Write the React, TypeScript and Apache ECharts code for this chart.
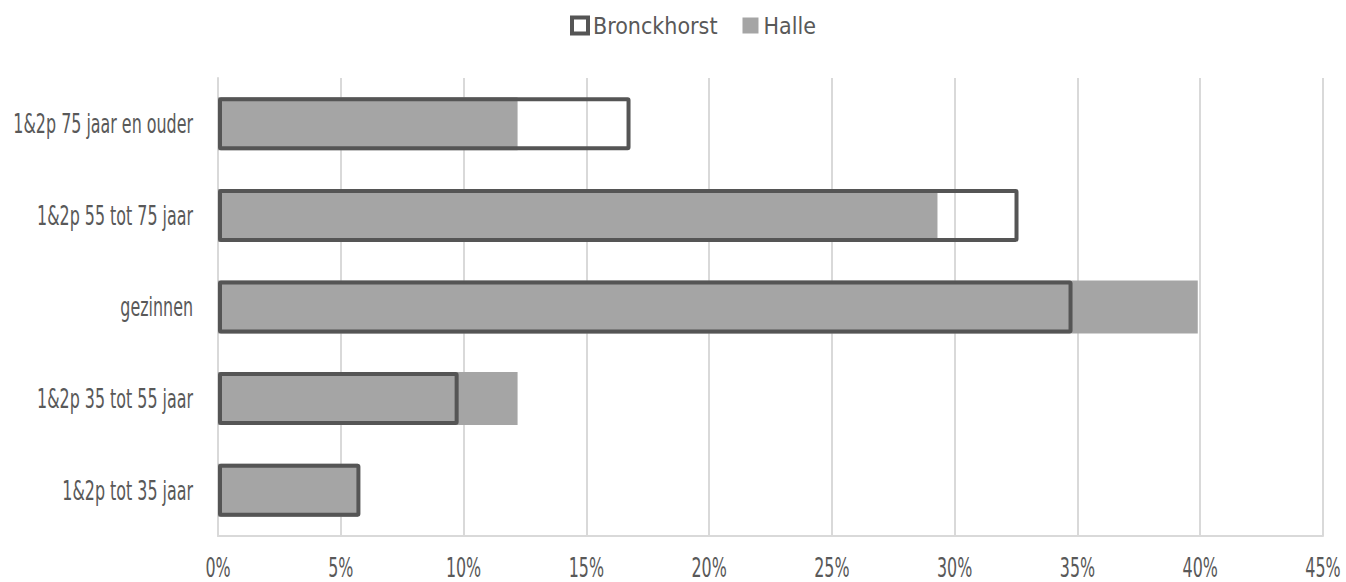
import React, { useEffect, useRef } from "react";
import * as echarts from "echarts";

// Household types, listed top to bottom
const categories = [
  "1&2p 75 jaar en ouder",
  "1&2p 55 tot 75 jaar",
  "gezinnen",
  "1&2p 35 tot 55 jaar",
  "1&2p tot 35 jaar",
];

// Shares in percent
const bronckhorst = [16.8, 32.6, 34.8, 9.8, 5.8];
const halle = [12.2, 29.3, 39.9, 12.2, 5.7];

// Value-axis ticks (percent)
const xTicks = [0, 5, 10, 15, 20, 25, 30, 35, 40, 45];

const FONT = "'DejaVu Sans Condensed', 'DejaVu Sans', sans-serif";
const TEXT = "#595959";
const GRID = "#d9d9d9";
const OUTLINE = "#555555";
const FILL = "#a5a5a5";

// Tall, narrow lettering for the axis labels
const LABEL_SIZE = 26;
const LABEL_SQUEEZE = 0.68;

const GRID_BOX = { left: 218, right: 23, top: 78, bottom: 46 };

export default function App() {
  const ref = useRef<HTMLDivElement>(null);

  useEffect(() => {
    if (!ref.current) return;
    const chart = echarts.init(ref.current, null, { renderer: "svg" });
    chart.setOption({
      animation: false,
      backgroundColor: "#ffffff",
      textStyle: { fontFamily: FONT, color: TEXT },
      legend: {
        top: 9,
        left: 565,
        icon: "rect",
        itemWidth: 16,
        itemHeight: 16,
        itemGap: 25,
        textStyle: { fontFamily: FONT, fontSize: 23, color: TEXT },
        data: [
          {
            name: "Bronckhorst",
            itemStyle: { color: "#ffffff", borderColor: OUTLINE, borderWidth: 4 },
          },
          { name: "Halle", itemStyle: { color: FILL, borderWidth: 0 } },
        ],
      },
      grid: { ...GRID_BOX, containLabel: false, outerBoundsMode: "none" },
      xAxis: {
        type: "value",
        min: xTicks[0],
        max: xTicks[xTicks.length - 1],
        interval: xTicks[1] - xTicks[0],
        axisLine: { show: true, lineStyle: { color: GRID, width: 2 } },
        axisTick: { show: false },
        splitLine: { show: true, lineStyle: { color: GRID, width: 2 } },
        axisLabel: { show: false },
      },
      yAxis: {
        type: "category",
        inverse: true,
        data: categories,
        axisLine: { show: true, lineStyle: { color: GRID, width: 2 } },
        axisTick: { show: false },
        axisLabel: { show: false },
      },
      series: [
        {
          name: "Halle",
          type: "bar",
          data: halle,
          barWidth: 53,
          itemStyle: { color: FILL },
          z: 2,
        },
        {
          name: "Bronckhorst",
          type: "bar",
          data: bronckhorst,
          barWidth: 53,
          barGap: "-100%",
          itemStyle: {
            color: "rgba(0,0,0,0)",
            borderColor: OUTLINE,
            borderWidth: 4,
            borderRadius: 1,
          },
          z: 3,
        },
      ],
    });

    // Axis labels placed through the chart's own scales, drawn condensed
    const labelStyle = {
      fontFamily: FONT,
      fontSize: LABEL_SIZE,
      fill: TEXT,
    };
    const yLabels = categories.map((name, i) => {
      const [px, py] = chart.convertToPixel({ gridIndex: 0 }, [0, i]) as number[];
      return {
        type: "text",
        x: px - 25,
        y: py,
        scaleX: LABEL_SQUEEZE,
        silent: true,
        style: { ...labelStyle, text: name, textAlign: "right", textVerticalAlign: "middle" },
      };
    });
    const axisBottom = 582 - GRID_BOX.bottom;
    const xLabels = xTicks.map((v) => {
      const [px] = chart.convertToPixel({ gridIndex: 0 }, [v, 0]) as number[];
      return {
        type: "text",
        x: px,
        y: axisBottom + 32,
        scaleX: LABEL_SQUEEZE,
        silent: true,
        style: { ...labelStyle, text: `${v}%`, textAlign: "center", textVerticalAlign: "middle" },
      };
    });
    chart.setOption({ graphic: [...yLabels, ...xLabels] });

    return () => chart.dispose();
  }, []);

  return (
    <div
      ref={ref}
      style={{ position: "fixed", left: 0, top: 0, width: 1346, height: 582 }}
    />
  );
}
